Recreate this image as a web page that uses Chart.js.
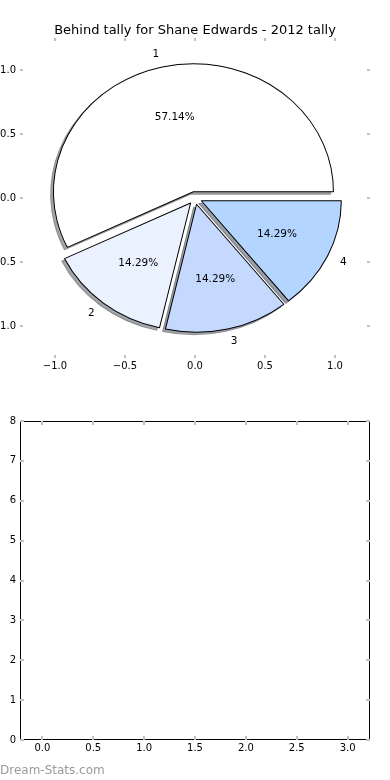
<!DOCTYPE html>
<html>
<head>
<meta charset="utf-8">
<script src="https://cdn.jsdelivr.net/npm/chart.js@4.4.1/dist/chart.umd.min.js"></script>
<style>
  body { margin: 0; background: #fff; }
  #wrap { position: relative; width: 390px; height: 780px; overflow: hidden; }
  canvas { position: absolute; left: 0; }
  #mark { position: absolute; left: 0; top: 762px; font: 12px "DejaVu Sans", sans-serif; line-height: 16px; color: #9a9a9a; }
</style>
</head>
<body>
<div id="wrap">
  <canvas id="pieAxes" width="390" height="390" style="top:0"></canvas>
  <canvas id="pie" width="390" height="390" style="top:0"></canvas>
  <canvas id="lower" width="390" height="390" style="top:390px"></canvas>
  <div id="mark">Dream-Stats.com</div>
</div>
<script>
// pie values
const sliceLabels = ['1', '2', '3', '4'];
const sliceValues = [4, 1, 1, 1];
const pieTicks = [-1.0, -0.5, 0.0, 0.5, 1.0];
// empty lower panel
const lowerXTicks = [0.0, 0.5, 1.0, 1.5, 2.0, 2.5, 3.0];
const lowerYTicks = [0, 1, 2, 3, 4, 5, 6, 7, 8];

const sliceColors = ['#ffffff', '#ebf2ff', '#c5d9ff', '#b3d5ff'];
const EXPLODE = 0.05, LABEL_DIST = 1.1, PCT_DIST = 0.6, SHADOW = 0.02;

Chart.defaults.font.family = '"DejaVu Sans", sans-serif';
Chart.defaults.font.size = 10;
Chart.defaults.color = '#000';

const fmt = v => v.toFixed(1).replace('-', '\u2212');

// shadow colour like matplotlib: 30% of the face colour at half alpha
function shade(hex) {
  const n = parseInt(hex.slice(1), 16);
  const r = (n >> 16) & 255, g = (n >> 8) & 255, b = n & 255;
  return 'rgba(' + Math.round(r * 0.3) + ',' + Math.round(g * 0.3) + ',' + Math.round(b * 0.3) + ',0.5)';
}

// matplotlib-style inward tick marks (+ optional frame)
const innerTicks = {
  id: 'innerTicks',
  afterDraw(chart, args, opts) {
    const { ctx, chartArea: a, scales } = chart;
    const len = opts.length;
    ctx.save();
    if (opts.frame) {
      ctx.strokeStyle = '#000';
      ctx.lineWidth = 1;
      ctx.strokeRect(a.left + 0.5, a.top + 0.5, a.right - a.left - 1, a.bottom - a.top - 1);
    }
    ctx.strokeStyle = opts.color;
    ctx.lineWidth = 2;
    ctx.beginPath();
    scales.x.ticks.forEach(t => {
      const px = Math.round(scales.x.getPixelForValue(t.value));
      ctx.moveTo(px, a.top); ctx.lineTo(px, a.top + len);
      ctx.moveTo(px, a.bottom); ctx.lineTo(px, a.bottom - len);
    });
    scales.y.ticks.forEach(t => {
      const py = Math.round(scales.y.getPixelForValue(t.value));
      ctx.moveTo(a.left, py); ctx.lineTo(a.left + len, py);
      ctx.moveTo(a.right, py); ctx.lineTo(a.right - len, py);
    });
    ctx.stroke();
    ctx.restore();
  }
};

function axisScale(min, max, ticks, format, pad, fit) {
  return {
    min: min, max: max,
    grid: { display: false, drawTicks: false },
    border: { display: false },
    afterBuildTicks: s => { s.ticks = ticks.map(v => ({ value: v })); },
    afterFit: fit,
    ticks: { callback: format, padding: pad, maxRotation: 0, autoSkip: false }
  };
}

// axes behind the pie
const pieAxes = new Chart(document.getElementById('pieAxes'), {
  type: 'scatter',
  data: { datasets: [] },
  options: {
    responsive: false,
    animation: false,
    events: [],
    layout: { padding: { left: 0, right: 20, top: 0, bottom: 0 }, autoPadding: false },
    scales: {
      x: axisScale(-1.25, 1.25, pieTicks, fmt, 2, s => { s.height = 32; }),
      y: axisScale(-1.25, 1.25, pieTicks, fmt, 4, s => { s.width = 20; })
    },
    plugins: {
      legend: { display: false },
      tooltip: { enabled: false },
      title: {
        display: true,
        fullSize: false,
        text: 'Behind tally for Shane Edwards - 2012 tally',
        color: '#000',
        font: { size: 13, weight: 'normal', lineHeight: 1 },
        padding: { top: 24.5, bottom: 0.5 }
      },
      innerTicks: { length: 3, color: '#c0c0c0', frame: false }
    }
  },
  plugins: [innerTicks]
});

function axesMap() {
  const xs = pieAxes.scales.x, ys = pieAxes.scales.y;
  const cx = xs.getPixelForValue(0), cy = ys.getPixelForValue(0);
  return { cx: cx, cy: cy, rx: xs.getPixelForValue(1) - cx, ry: cy - ys.getPixelForValue(1) };
}

function applyAxesTransform(ctx, chart) {
  const c = chart.$c0, m = axesMap();
  ctx.translate(m.cx, m.cy);
  ctx.scale(m.rx / c.r, -m.ry / c.r);
  ctx.translate(-c.x, -c.y);
}

// place the doughnut's arcs on the data axes (elliptical, counter-clockwise, exploded)
const pieOnAxes = {
  id: 'pieOnAxes',
  afterDatasetsUpdate(chart) {
    const arcs = chart.getDatasetMeta(0).data;
    chart.$c0 = { x: arcs[0].x, y: arcs[0].y, r: arcs[0].outerRadius };
    arcs.forEach(arc => {
      const mid = (arc.startAngle + arc.endAngle) / 2;
      arc.x += Math.cos(mid) * EXPLODE * arc.outerRadius;
      arc.y += Math.sin(mid) * EXPLODE * arc.outerRadius;
    });
  },
  beforeDatasetsDraw(chart) {
    const { ctx } = chart, m = axesMap();
    // shadows first, all under the wedges
    ctx.save();
    ctx.translate(-SHADOW * m.rx, SHADOW * m.ry);
    applyAxesTransform(ctx, chart);
    chart.getDatasetMeta(0).data.forEach((arc, i) => {
      const ghost = Object.create(arc);
      const col = shade(sliceColors[i]);
      ghost.options = Object.assign({}, arc.options, { backgroundColor: col, borderColor: col });
      ghost.draw(ctx);
    });
    ctx.restore();
    ctx.save();
    applyAxesTransform(ctx, chart);
  },
  afterDatasetsDraw(chart) {
    const { ctx } = chart, c = chart.$c0, m = axesMap();
    ctx.restore();
    const toScreen = (px, py) => ({
      x: m.cx + (px - c.x) * m.rx / c.r,
      y: m.cy - (py - c.y) * m.ry / c.r
    });
    const total = sliceValues.reduce((a, b) => a + b, 0);
    ctx.save();
    ctx.fillStyle = '#000';
    ctx.font = '10.5px "DejaVu Sans", sans-serif';
    ctx.textBaseline = 'middle';
    chart.getDatasetMeta(0).data.forEach((arc, i) => {
      const mid = (arc.startAngle + arc.endAngle) / 2;
      const R = arc.outerRadius;
      const lp = toScreen(arc.x + Math.cos(mid) * LABEL_DIST * R, arc.y + Math.sin(mid) * LABEL_DIST * R);
      ctx.textAlign = lp.x > m.cx ? 'left' : 'right';
      ctx.fillText(sliceLabels[i], lp.x, lp.y);
      const pp = toScreen(arc.x + Math.cos(mid) * PCT_DIST * R, arc.y + Math.sin(mid) * PCT_DIST * R);
      ctx.textAlign = 'center';
      ctx.fillText((sliceValues[i] / total * 100).toFixed(2) + '%', pp.x, pp.y);
    });
    ctx.restore();
  }
};

new Chart(document.getElementById('pie'), {
  type: 'doughnut',
  data: {
    labels: sliceLabels,
    datasets: [{
      data: sliceValues,
      backgroundColor: sliceColors,
      borderColor: '#000',
      borderWidth: 1.4,
      clip: false
    }]
  },
  options: {
    responsive: false,
    animation: false,
    events: [],
    cutout: 0,
    rotation: 90,
    layout: { padding: 0 },
    plugins: { legend: { display: false }, tooltip: { enabled: false } }
  },
  plugins: [pieOnAxes]
});

// empty lower panel
new Chart(document.getElementById('lower'), {
  type: 'scatter',
  data: { datasets: [] },
  options: {
    responsive: false,
    animation: false,
    events: [],
    layout: { padding: { left: 0, right: 20, top: 31, bottom: 0 }, autoPadding: false },
    scales: {
      x: axisScale(-0.22, 3.22, lowerXTicks, v => v.toFixed(1), 2, s => { s.height = 40; }),
      y: axisScale(0, 8, lowerYTicks, v => String(v), 4, s => { s.width = 20; })
    },
    plugins: {
      legend: { display: false },
      tooltip: { enabled: false },
      innerTicks: { length: 4, color: '#c0c0c0', frame: true }
    }
  },
  plugins: [innerTicks]
});
</script>
</body>
</html>
